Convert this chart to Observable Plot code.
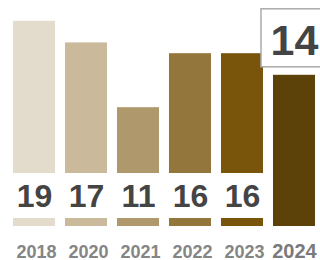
<!DOCTYPE html>
<html>
<head>
<meta charset="utf-8">
<script src="https://cdn.jsdelivr.net/npm/d3@7"></script>
<script src="https://cdn.jsdelivr.net/npm/@observablehq/plot@0.6"></script>
<style>
  html, body { margin: 0; padding: 0; background: #fff; overflow: hidden; }
  #chart { width: 320px; height: 260px; }
</style>
</head>
<body>
<div id="chart"></div>
<script>
const years = ["2018", "2020", "2021", "2022", "2023", "2024"];
const values = [19, 17, 11, 16, 16, 14];
const barColors = ["#e3dbcb", "#cab99a", "#af986b", "#93763b", "#79540b", "#5c4209"];
const highlightYear = "2024";

const data = years.map((year, i) => ({year, value: values[i], color: barColors[i]}));
const regular = data.filter(d => d.year !== highlightYear);
const highlight = data.filter(d => d.year === highlightYear);

const font = "'Liberation Sans', Arial, Helvetica, sans-serif";

const chart = Plot.plot({
  width: 320,
  height: 260,
  marginLeft: 13,
  marginRight: 5,
  marginTop: 10,
  marginBottom: 34,
  style: {fontFamily: font, background: "transparent", overflow: "visible"},
  x: {domain: years, paddingInner: 0.2, paddingOuter: 0, axis: null},
  y: {domain: [0, 20], axis: null},
  marks: [
    Plot.barY(data, {x: "year", y: "value", fill: "color"}),
    // white band behind the inside value labels
    Plot.barY(regular, {x: "year", y1: d => 0, y2: d => 0, fill: "white", insetTop: -53, insetBottom: 8}),
    Plot.text(regular, {x: "year", y: d => 0, text: d => String(d.value), lineAnchor: "bottom", dy: -20,
      fontSize: 32, fontWeight: "bold", fill: "#444"}),
    // boxed label above the highlighted bar
    Plot.barY(highlight, {x: "year", y1: "value", y2: "value", fill: "white", stroke: "#aaa", strokeWidth: 1.5,
      insetTop: -66, insetBottom: 8, insetLeft: -12, insetRight: -14}),
    Plot.text(highlight, {x: "year", y: "value", text: d => String(d.value), lineAnchor: "bottom", dy: -20,
      fontSize: 43, fontWeight: "bold", fill: "#444"}),
    // year labels
    Plot.text(regular, {x: "year", y: d => 0, text: "year", lineAnchor: "bottom", dy: 31, dx: 2,
      fontSize: 18, fontWeight: "bold", fill: "#858585"}),
    Plot.text(highlight, {x: "year", y: d => 0, text: "year", lineAnchor: "bottom", dy: 31,
      fontSize: 20, fontWeight: "bold", fill: "#7a7a7a"})
  ]
});
document.getElementById("chart").appendChild(chart);
</script>
</body>
</html>
